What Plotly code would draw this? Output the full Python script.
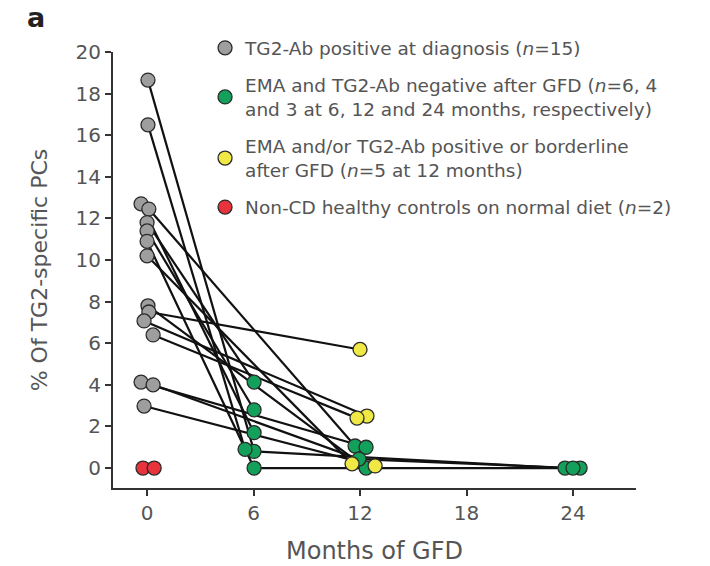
import plotly.graph_objects as go

# ---------------- data ----------------
# baseline (at diagnosis) values; months carry the small horizontal jitter seen in the figure
baseline_month = [0.05, 0.05, -0.34, 0.10, 0.0, 0.0, 0.0, 0.0, 0.05, 0.10, -0.17, 0.34, -0.34, 0.34, -0.17]
baseline_pct = [18.65, 16.5, 12.7, 12.45, 11.8, 11.4, 10.9, 10.2, 7.8, 7.5, 7.07, 6.4, 4.13, 4.0, 2.98]

# first follow-up for each patient (6 or 12 months on GFD)
followup_month = [6.03, 5.52, 6.03, 11.72, 6.03, 6.03, 6.03, 11.55, 12.34, 12.0, 12.39, 11.83, 12.34, 11.94, 12.85]
followup_pct = [0.8, 0.9, 1.7, 1.06, 4.13, 2.8, 0.0, 0.2, 0.0, 5.7, 2.5, 2.4, 1.0, 0.43, 0.1]
followup_status = ["neg", "neg", "neg", "neg", "neg", "neg", "neg", "pos", "neg", "pos", "pos", "pos", "neg", "neg", "pos"]

# 24-month follow-up (patient index, month, value)
late_patient = [0, 6, 13]
late_month = [23.55, 24.4, 24.0]
late_pct = [0.0, 0.0, 0.0]

# non-CD healthy controls
control_month = [-0.23, 0.40]
control_pct = [0.0, 0.0]

legend_names = [
    "TG2-Ab positive at diagnosis (<i>n</i>=15)",
    "EMA and TG2-Ab negative after GFD (<i>n</i>=6, 4<br>and 3 at 6, 12 and 24 months, respectively)",
    "EMA and/or TG2-Ab positive or borderline<br>after GFD (<i>n</i>=5 at 12 months)",
    "Non-CD healthy controls on normal diet (<i>n</i>=2)",
]
colors = ["#9e9e9e", "#12a05a", "#efe845", "#e8323c"]

# ---------------- build traces ----------------
line_x, line_y = [], []
for i in range(len(baseline_pct)):
    xs = [baseline_month[i], followup_month[i]]
    ys = [baseline_pct[i], followup_pct[i]]
    if i in late_patient:
        k = late_patient.index(i)
        xs.append(late_month[k])
        ys.append(late_pct[k])
    line_x += xs + [None]
    line_y += ys + [None]

green_x = [m for m, s in zip(followup_month, followup_status) if s == "neg"] + late_month
green_y = [v for v, s in zip(followup_pct, followup_status) if s == "neg"] + late_pct
yellow_x = [m for m, s in zip(followup_month, followup_status) if s == "pos"]
yellow_y = [v for v, s in zip(followup_pct, followup_status) if s == "pos"]

fig = go.Figure()
fig.add_trace(go.Scatter(x=line_x, y=line_y, mode="lines",
                         line=dict(color="#111111", width=2.2), showlegend=False,
                         hoverinfo="skip"))

marker_line = dict(color="#2b2b2b", width=1.3)
groups = [
    (baseline_month, baseline_pct),
    (green_x, green_y),
    (yellow_x, yellow_y),
    (control_month, control_pct),
]
for gi, ((gx, gy), name, col) in enumerate(zip(groups, legend_names, colors)):
    fig.add_trace(go.Scatter(x=gx, y=gy, mode="markers", name=name,
                             legendgroup="g%d" % gi,
                             marker=dict(size=14, color=col, line=marker_line)))

axis_common = dict(showline=True, linecolor="#333333", linewidth=2,
                   ticks="outside", ticklen=6, tickwidth=2, tickcolor="#333333",
                   showgrid=False, zeroline=False, automargin=False,
                   tickfont=dict(size=20, color="#555555"))

fig.update_layout(
    width=710, height=566,
    margin=dict(l=113, r=74, t=52, b=78),
    paper_bgcolor="white", plot_bgcolor="white",
    font=dict(family="DejaVu Sans", color="#555555"),
    xaxis=dict(range=[-1.92, 27.55], tickvals=[0, 6, 12, 18, 24],
               title=dict(text="Months of GFD", font=dict(size=24, color="#555555"), standoff=18),
               **axis_common),
    yaxis=dict(range=[-0.96, 20], tickvals=list(range(0, 21, 2)),
               title=dict(text="% Of TG2-specific PCs", font=dict(size=22, color="#555555"), standoff=22),
               **axis_common),
    legend=dict(x=0.176, y=1.052, xanchor="left", yanchor="top",
                font=dict(size=18.5, color="#555555"), bgcolor="rgba(0,0,0,0)",
                tracegroupgap=10),
    showlegend=True,
    annotations=[dict(text="<b>a</b>", xref="paper", yref="paper", x=-0.168, y=1.078,
                      xanchor="left", yanchor="middle", showarrow=False,
                      font=dict(size=27, color="#222222"))],
)

fig.write_html("out.html")
